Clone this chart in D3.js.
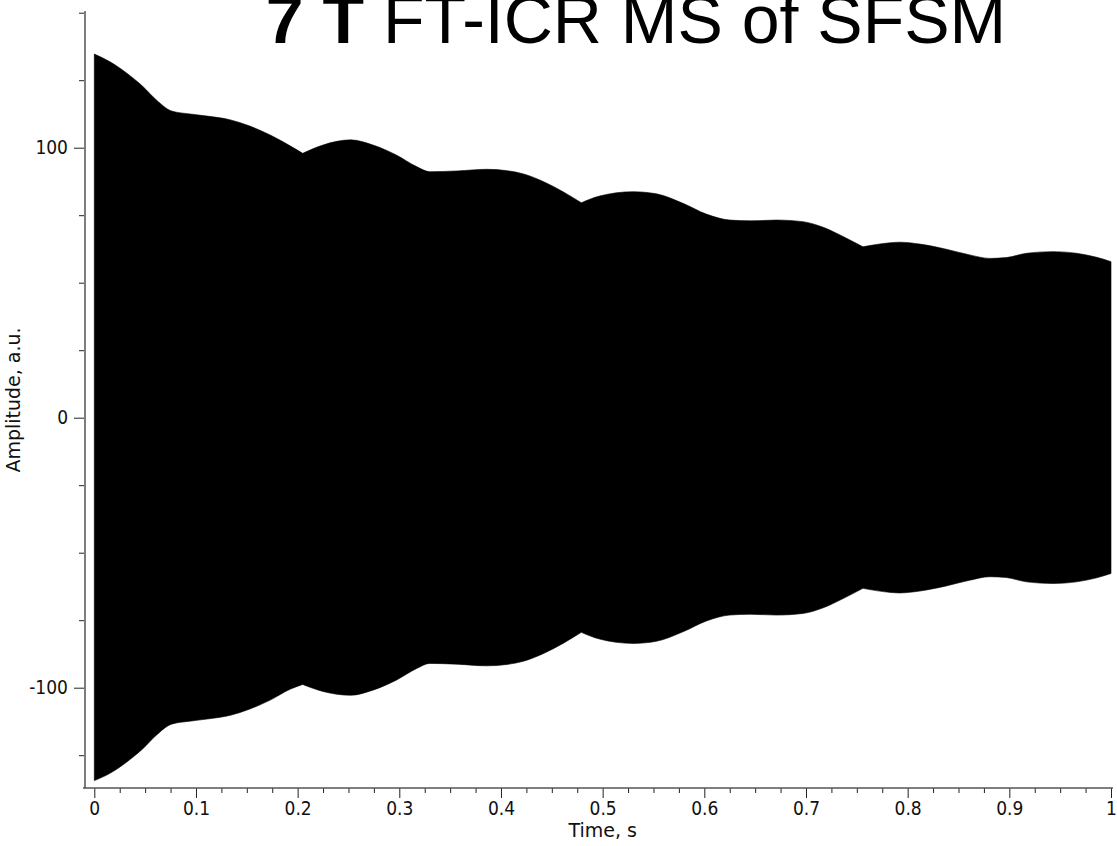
<!DOCTYPE html>
<html>
<head>
<meta charset="utf-8">
<script src="https://cdn.jsdelivr.net/npm/d3@7"></script>
<style>
  html, body { margin: 0; padding: 0; background: #fff; }
  svg { display: block; }
  .tick text { font-family: "DejaVu Sans Condensed", "DejaVu Sans", sans-serif; font-size: 19px; fill: #111; }
  .axis-title { font-family: "DejaVu Sans", sans-serif; font-size: 19px; fill: #111; }
  .chart-title { font-family: "Liberation Sans", Arial, sans-serif; font-size: 68px; fill: #000; }
</style>
</head>
<body>
<svg id="chart"></svg>
<script>
// FID envelope (time in s, amplitude in a.u.)
const timeS = [
  0, 0.015, 0.032, 0.048, 0.061, 0.076, 0.094, 0.111, 0.134, 0.153,
  0.173, 0.193, 0.205, 0.225, 0.252, 0.274, 0.297, 0.317, 0.330, 0.357,
  0.386, 0.406, 0.422, 0.442, 0.461, 0.479, 0.497, 0.530, 0.553, 0.579,
  0.602, 0.625, 0.645, 0.671, 0.697, 0.717, 0.737, 0.756, 0.783, 0.792,
  0.812, 0.838, 0.861, 0.881, 0.897, 0.917, 0.943, 0.966, 0.986, 1.0
]
const envUpper = [
  134.7, 131.9, 127.6, 122.6, 117.7, 113.6, 112.5, 111.7, 110.3, 108.0,
  104.7, 100.6, 97.9, 101.0, 102.9, 101.0, 97.3, 93.0, 91.1, 91.4,
  92.0, 91.5, 90.3, 87.4, 83.7, 79.6, 82.1, 83.7, 82.9, 79.4,
  75.4, 73.2, 72.9, 73.2, 72.6, 70.5, 67.0, 63.3, 64.8, 65.0,
  64.3, 62.4, 60.3, 59.0, 59.3, 60.9, 61.5, 60.9, 59.4, 57.8
]
const envLower = [
  -134.4, -131.8, -127.5, -122.5, -117.6, -113.5, -112.4, -111.6, -110.2, -107.9,
  -104.6, -100.5, -98.8, -101.4, -102.8, -100.9, -97.2, -92.9, -91.0, -91.3,
  -91.9, -91.4, -90.2, -87.3, -83.6, -79.5, -82.0, -83.6, -82.8, -79.3,
  -75.3, -73.1, -72.8, -73.1, -72.5, -70.4, -66.9, -63.2, -64.7, -64.9,
  -64.2, -62.3, -60.2, -58.9, -59.2, -60.8, -61.4, -60.8, -59.3, -57.7
]
// indices where the envelope has a sharp beat node (cusp)
const beatNodes = [12, 25, 37]

const xMajorTicks = [0, 0.1, 0.2, 0.3, 0.4, 0.5, 0.6, 0.7, 0.8, 0.9, 1]
const xTickLabels = ["0", "0.1", "0.2", "0.3", "0.4", "0.5", "0.6", "0.7", "0.8", "0.9", "1"]
const yMajorTicks = [-100, 0, 100]
const yTickLabels = ["-100", "0", "100"]

const WIDTH = 1117
const HEIGHT = 846
const Y_AXIS_X = 85
const X_AXIS_Y = 788

const svg = d3.select("#chart").attr("width", WIDTH).attr("height", HEIGHT)

const x = d3.scaleLinear().domain([0, 1]).range([94.3, 1111])
const y = d3.scaleLinear().domain([-100, 100]).range([687.7, 147.7])

// signal envelope: smooth between beat nodes, sharp at the nodes,
// stitched into one path so no seams show
const data = timeS.map((t, i) => ({ t, hi: envUpper[i], lo: envLower[i] }))
const cuts = [0, ...beatNodes, data.length - 1]
const pieces = d3.pairs(cuts).map(([a, b]) => data.slice(a, b + 1))

const upperLine = d3.line().x((d) => x(d.t)).y((d) => y(d.hi)).curve(d3.curveMonotoneX)
const lowerLine = d3.line().x((d) => x(d.t)).y((d) => y(d.lo)).curve(d3.curveMonotoneX)

const upperPath = pieces
  .map((p, i) => (i ? upperLine(p).replace(/^M/, "L") : upperLine(p)))
  .join("")
const lowerPath = pieces
  .slice()
  .reverse()
  .map((p) => lowerLine(p.slice().reverse()).replace(/^M/, "L"))
  .join("")

svg.append("path")
  .attr("d", upperPath + lowerPath + "Z")
  .attr("fill", "#000")
  .attr("stroke", "#000")
  .attr("stroke-width", 0.6)

// y axis
const yMinor = d3.range(-125, 151, 25).filter((v) => v % 100 !== 0)
const gy = svg.append("g").attr("transform", `translate(${Y_AXIS_X},0)`)
gy.append("g")
  .call(d3.axisLeft(y).tickValues(yMinor).tickSize(6).tickFormat(""))
  .call((g) => g.select(".domain").remove())
gy.append("g")
  .call(d3.axisLeft(y).tickValues(yMajorTicks).tickSize(11).tickPadding(6)
    .tickFormat((d, i) => yTickLabels[i]))
  .call((g) => g.select(".domain").remove())
gy.selectAll(".tick line").attr("stroke", "#222")
gy.append("line")
  .attr("x1", 0).attr("x2", 0)
  .attr("y1", y(150.6)).attr("y2", X_AXIS_Y)
  .attr("stroke", "#7d7d7d").attr("stroke-width", 2)

// x axis
const xMinor = d3.range(0, 1.001, 0.025).filter((v) => Math.abs(v * 10 - Math.round(v * 10)) > 1e-6)
const gx = svg.append("g").attr("transform", `translate(0,${X_AXIS_Y})`)
gx.append("g")
  .call(d3.axisBottom(x).tickValues(xMinor).tickSize(5).tickFormat(""))
  .call((g) => g.select(".domain").remove())
gx.append("g")
  .call(d3.axisBottom(x).tickValues(xMajorTicks).tickSize(10).tickPadding(4)
    .tickFormat((d, i) => xTickLabels[i]))
  .call((g) => g.select(".domain").remove())
gx.selectAll(".tick line").attr("stroke", "#222")
gx.append("line")
  .attr("x1", 83).attr("x2", 1113)
  .attr("y1", 0).attr("y2", 0)
  .attr("stroke", "#555").attr("stroke-width", 1.5)

// axis titles
svg.append("text")
  .attr("class", "axis-title")
  .attr("x", (x(0) + x(1)) / 2)
  .attr("y", 837)
  .attr("text-anchor", "middle")
  .text("Time, s")

svg.append("text")
  .attr("class", "axis-title")
  .attr("transform", `translate(20,400) rotate(-90)`)
  .attr("text-anchor", "middle")
  .text("Amplitude, a.u.")

// title, partly cut off at the top like the original
const title = svg.append("text")
  .attr("class", "chart-title")
  .attr("x", 636)
  .attr("y", 43)
  .attr("text-anchor", "middle")
title.append("tspan").attr("font-weight", "bold").text("7 T")
title.append("tspan").text(" FT-ICR MS of SFSM")
</script>
</body>
</html>
